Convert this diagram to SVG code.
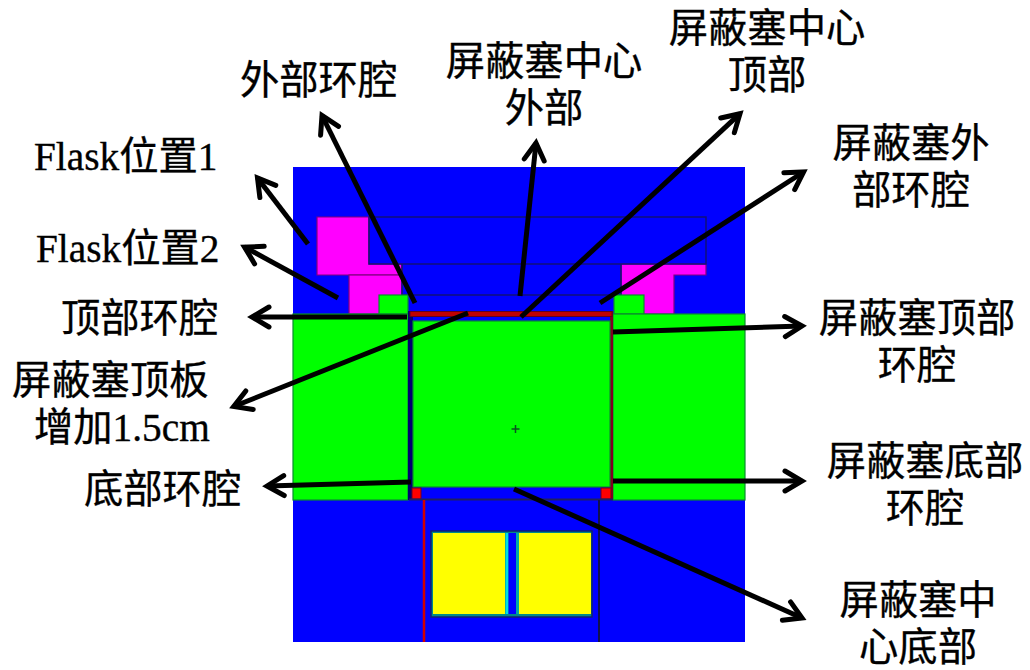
<svg xmlns="http://www.w3.org/2000/svg" width="1030" height="670" viewBox="0 0 1030 670">
<style>
.t{font-family:"Liberation Serif","Noto Sans CJK SC",serif;font-size:39.300px;fill:#000;font-weight:400;stroke:#000;stroke-width:.35}
.m{text-anchor:middle}
.o{stroke:#10107a;stroke-width:1.500}
.p{fill:#ff00ff;stroke:#800080;stroke-width:1.200}
.g{fill:#00ff00;stroke:#0a8a30;stroke-width:1.200}
.a{fill:none;stroke:#000;stroke-width:5;marker-end:url(#h)}
</style>
<defs>
<marker id="h" viewBox="-24 -14 32 28" refX="0" refY="0" markerWidth="32" markerHeight="28" markerUnits="userSpaceOnUse" orient="auto">
<path d="M-17-10L0 0L-17 10" fill="none" stroke="#000" stroke-width="5" stroke-linecap="round" stroke-miterlimit="6"/>
</marker>
</defs>
<g id="model">
<rect x="293" y="167" width="452" height="475" fill="#0000ff"/>
<path class="p" d="M317 217H369V264H402V275H317Z"/>
<rect class="p" x="349" y="275" width="53" height="39"/>
<path class="p" d="M621 264H706V275H674V314H621Z"/>
<path d="M369 217H706V264H369ZM402 264V295H621V264" fill="none" class="o"/>
<rect class="g" x="379" y="295" width="29" height="19"/>
<rect class="g" x="614" y="295" width="30" height="19"/>
<rect class="g" x="293" y="314" width="115" height="186"/>
<rect class="g" x="613" y="314" width="132" height="186"/>
<rect x="408" y="311" width="205" height="189" fill="#0000ff"/>
<rect x="408" y="311" width="5" height="189" fill="#000070"/>
<rect x="610" y="311" width="3" height="189" fill="#800020"/>
<rect x="410" y="311.500" width="202" height="5" fill="#c00000" stroke="#600020" stroke-width="1"/>
<rect class="g" x="413" y="321" width="197" height="166"/>
<path d="M515.500 425V433M511.500 429H519.500" stroke="#0a5020" stroke-width="1.500"/>
<rect x="412" y="488" width="9" height="11" fill="#ff0000" stroke="#700020"/>
<rect x="601" y="488" width="10" height="11" fill="#ff0000" stroke="#700020"/>
<path d="M409 499.500H613" stroke="#202060" stroke-width="2"/>
<path d="M424 500V642" stroke="#d00000" stroke-width="2.500"/>
<path d="M599 500V642" stroke="#101050" stroke-width="2"/>
<rect x="431" y="531" width="161" height="86" fill="#008a8a" stroke="#102070" stroke-width="1.500"/>
<rect x="433" y="533" width="72" height="81" fill="#ffff00"/>
<rect x="519" y="533" width="72" height="81" fill="#ffff00"/>
<rect x="505.500" y="533" width="3" height="81" fill="#00e0e0"/>
<rect x="508.500" y="533" width="7.500" height="81" fill="#0000ff"/>
<rect x="516" y="533" width="3" height="81" fill="#00a8a8"/>
</g>
<g id="connectors">
<path class="a" d="M308 244L257.500 178"/>
<path class="a" d="M338 298L244.500 247"/>
<path class="a" d="M407 317H252"/>
<path class="a" d="M415 303L322 115.500"/>
<path class="a" d="M520 296L536 143"/>
<path class="a" d="M521 317L740 113.700"/>
<path class="a" d="M600 303L803.600 172"/>
<path class="a" d="M613 332L802 326"/>
<path class="a" d="M468 313L233.700 406.500"/>
<path class="a" d="M411 482L267 486"/>
<path class="a" d="M613 481H802"/>
<path class="a" d="M514 489L802 618"/>
</g>
<g id="label-flask1"><text class="t" x="34" y="170">Flask位置1</text></g>
<g id="label-flask2"><text class="t" x="36" y="262">Flask位置2</text></g>
<g id="label-top-annulus"><text class="t" x="61" y="332">顶部环腔</text></g>
<g id="label-plate"><text class="t" x="12" y="394">屏蔽塞顶板</text><text class="t" x="34" y="441">增加1.5cm</text></g>
<g id="label-bottom-annulus"><text class="t" x="84" y="503">底部环腔</text></g>
<g id="label-outer-annulus"><text class="t" x="240" y="94">外部环腔</text></g>
<g id="label-center-outer"><text class="t m" x="544" y="75">屏蔽塞中心</text><text class="t m" x="544" y="122">外部</text></g>
<g id="label-center-top"><text class="t m" x="767" y="42">屏蔽塞中心</text><text class="t m" x="767" y="89">顶部</text></g>
<g id="label-plug-outer"><text class="t m" x="911" y="157">屏蔽塞外</text><text class="t m" x="911" y="204">部环腔</text></g>
<g id="label-plug-top"><text class="t m" x="917" y="332">屏蔽塞顶部</text><text class="t m" x="917" y="379">环腔</text></g>
<g id="label-plug-bottom"><text class="t m" x="925" y="475">屏蔽塞底部</text><text class="t m" x="925" y="522">环腔</text></g>
<g id="label-center-bottom"><text class="t m" x="918" y="614">屏蔽塞中</text><text class="t m" x="918" y="661">心底部</text></g>
</svg>
